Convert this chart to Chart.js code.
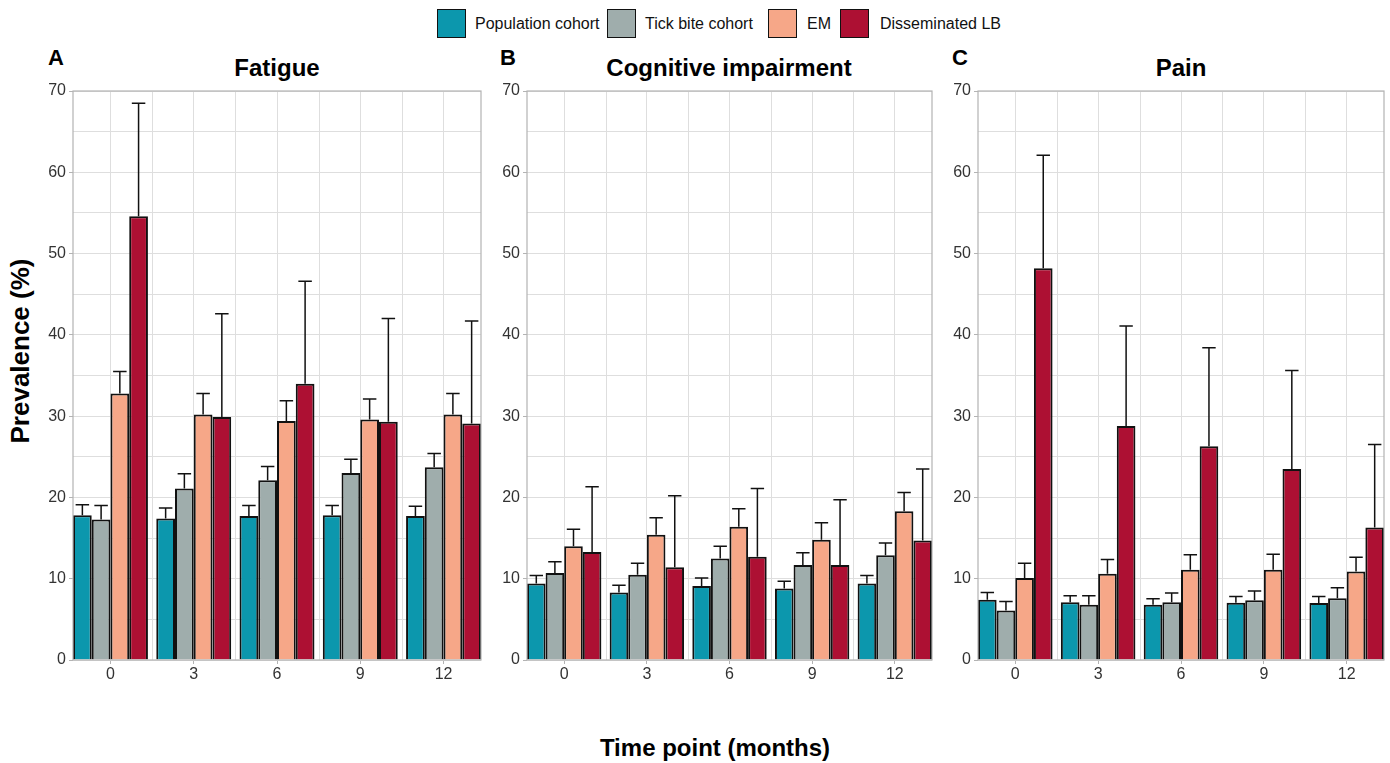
<!DOCTYPE html>
<html>
<head>
<meta charset="utf-8">
<script src="https://cdn.jsdelivr.net/npm/chart.js@4.4.1/dist/chart.umd.min.js"></script>
<style>
  html, body { margin: 0; padding: 0; background: #fff; }
  body { width: 1390px; height: 763px; position: relative; overflow: hidden;
         font-family: "Liberation Sans", Arial, Helvetica, sans-serif; color: #000; }
  .abs { position: absolute; white-space: nowrap; }
  .lbox { position: absolute; top: 9px; width: 29px; height: 29px; box-sizing: border-box; border: 1.5px solid #111; }
  .ltxt { position: absolute; top: 9px; height: 29px; line-height: 29px; font-size: 16px; color: #111; }
  .title { font-size: 24px; font-weight: bold; line-height: 24px; text-align: center; width: 400px; }
  .letter { font-size: 22px; font-weight: bold; line-height: 22px; }
  canvas { position: absolute; }
</style>
</head>
<body>
  <div class="lbox" style="left:437px;background:#0C97AD"></div>
  <div class="ltxt" style="left:475px">Population cohort</div>
  <div class="lbox" style="left:607px;background:#9FADAC"></div>
  <div class="ltxt" style="left:645px">Tick bite cohort</div>
  <div class="lbox" style="left:768px;background:#F6A788"></div>
  <div class="ltxt" style="left:807px">EM</div>
  <div class="lbox" style="left:840px;background:#AD1033"></div>
  <div class="ltxt" style="left:880px">Disseminated LB</div>

  <div class="abs letter" style="left:48px;top:47px">A</div>
  <div class="abs letter" style="left:500px;top:47px">B</div>
  <div class="abs letter" style="left:952px;top:47px">C</div>

  <div class="abs title" style="left:77px;top:56px">Fatigue</div>
  <div class="abs title" style="left:529px;top:56px">Cognitive impairment</div>
  <div class="abs title" style="left:981px;top:56px">Pain</div>

  <div class="abs" style="left:0;top:736px;width:1390px;text-align:center;font-size:24px;font-weight:bold;line-height:24px;padding-left:40px;box-sizing:border-box">Time point (months)</div>
  <div class="abs" style="left:-180px;top:338px;width:400px;text-align:center;font-size:26px;font-weight:bold;line-height:26px;transform:rotate(-90deg)">Prevalence (%)</div>

  <canvas id="cA" width="446" height="615" style="left:40px;top:75px"></canvas>
  <canvas id="cB" width="445" height="615" style="left:492px;top:75px"></canvas>
  <canvas id="cC" width="445" height="615" style="left:944px;top:75px"></canvas>

<script>
// ---------- data ----------
const months = [0, 3, 6, 9, 12];
const seriesNames = ['Population cohort', 'Tick bite cohort', 'EM', 'Disseminated LB'];
const yTickValues = [0, 5, 10, 15, 20, 25, 30, 35, 40, 45, 50, 55, 60, 65, 70];
const xMinorGrid = [1.5, 4.5, 7.5, 10.5];

// Fatigue
const fatiguePop        = [17.8, 17.4, 17.7, 17.8, 17.7];
const fatiguePopUpper   = [19.1, 18.7, 19.0, 19.0, 18.9];
const fatigueTick       = [17.3, 21.1, 22.1, 23.0, 23.7];
const fatigueTickUpper  = [19.0, 22.9, 23.8, 24.7, 25.4];
const fatigueEM         = [32.8, 30.2, 29.4, 29.6, 30.2];
const fatigueEMUpper    = [35.5, 32.8, 31.9, 32.1, 32.8];
const fatigueLB         = [54.6, 29.9, 34.0, 29.3, 29.1];
const fatigueLBUpper    = [68.5, 42.6, 46.6, 42.0, 41.7];

// Cognitive impairment
const cognPop           = [9.4, 8.3, 9.1, 8.8, 9.4];
const cognPopUpper      = [10.4, 9.2, 10.1, 9.7, 10.4];
const cognTick          = [10.7, 10.5, 12.5, 11.7, 12.9];
const cognTickUpper     = [12.1, 11.9, 14.0, 13.2, 14.4];
const cognEM            = [14.0, 15.4, 16.4, 14.8, 18.3];
const cognEMUpper       = [16.1, 17.5, 18.6, 16.9, 20.6];
const cognLB            = [13.3, 11.4, 12.7, 11.7, 14.7];
const cognLBUpper       = [21.3, 20.2, 21.1, 19.7, 23.5];

// Pain
const painPop           = [7.4, 7.1, 6.8, 7.05, 7.0];
const painPopUpper      = [8.3, 7.9, 7.55, 7.8, 7.8];
const painTick          = [6.1, 6.8, 7.1, 7.35, 7.6];
const painTickUpper     = [7.2, 7.9, 8.25, 8.5, 8.9];
const painEM            = [10.1, 10.6, 11.1, 11.1, 10.9];
const painEMUpper       = [11.9, 12.35, 12.95, 13.0, 12.65];
const painLB            = [48.2, 28.8, 26.3, 23.5, 16.3];
const painLBUpper       = [62.1, 41.1, 38.4, 35.6, 26.5];

// ---------- styles ----------
const colors = ['#0C97AD', '#9FADAC', '#F6A788', '#AD1033'];
const FONT = '"Liberation Sans", Arial, Helvetica, sans-serif';
const GRID = '#dedede';
const FRAME = '#b3b3b3';

const panelPlugin = {
  id: 'panelDecor',
  beforeDatasetsDraw(chart) {
    const { ctx, chartArea: a, scales: { x } } = chart;
    ctx.save();
    ctx.strokeStyle = GRID;
    ctx.lineWidth = 1;
    xMinorGrid.forEach(v => {
      const px = Math.round(x.getPixelForValue(v)) + 0.5;
      ctx.beginPath(); ctx.moveTo(px, a.top); ctx.lineTo(px, a.bottom); ctx.stroke();
    });
    ctx.restore();
  },
  afterDatasetsDraw(chart) {
    const { ctx, chartArea: a, scales: { y } } = chart;
    ctx.save();
    ctx.strokeStyle = '#111';
    ctx.lineWidth = 1.5;
    chart.data.datasets.forEach((ds, i) => {
      const meta = chart.getDatasetMeta(i);
      meta.data.forEach((bar, j) => {
        const top = y.getPixelForValue(ds.errUpper[j]);
        const half = bar.width * 0.36;
        ctx.beginPath();
        ctx.moveTo(bar.x, bar.y);
        ctx.lineTo(bar.x, top);
        ctx.moveTo(bar.x - half, top);
        ctx.lineTo(bar.x + half, top);
        ctx.stroke();
      });
    });
    ctx.strokeStyle = FRAME;
    ctx.lineWidth = 1.2;
    ctx.strokeRect(a.left, a.top, a.right - a.left, a.bottom - a.top);
    ctx.restore();
  }
};

function makePanel(id, values, uppers, yAxisWidth) {
  const datasets = values.map((vals, k) => ({
    label: seriesNames[k],
    data: months.map((m, i) => ({ x: m, y: vals[i] })),
    errUpper: uppers[k],
    backgroundColor: colors[k],
    borderColor: '#111',
    borderWidth: 2,
    categoryPercentage: 0.9,
    barPercentage: 1.0
  }));
  return new Chart(document.getElementById(id), {
    type: 'bar',
    data: { datasets },
    plugins: [panelPlugin],
    options: {
      responsive: false,
      animation: false,
      events: [],
      layout: { padding: { top: 16, right: 5, bottom: 0, left: 0 } },
      plugins: { legend: { display: false }, tooltip: { enabled: false }, title: { display: false } },
      scales: {
        x: {
          type: 'linear', min: -1.35, max: 13.35, offset: false,
          afterBuildTicks: s => { s.ticks = months.map(v => ({ value: v })); },
          afterFit: s => { s.height = 30; },
          ticks: { autoSkip: false, maxRotation: 0, padding: 1, color: '#333',
                   font: { size: 16, family: FONT }, callback: v => String(v) },
          grid: { offset: false, color: GRID, lineWidth: 1, tickLength: 4, tickColor: FRAME, drawTicks: true },
          border: { display: false }
        },
        y: {
          min: 0, max: 70,
          afterBuildTicks: s => { s.ticks = yTickValues.map(v => ({ value: v })); },
          afterFit: s => { s.width = yAxisWidth; },
          ticks: { autoSkip: false, padding: 3, color: '#333',
                   font: { size: 16, family: FONT },
                   callback: v => (v % 10 === 0 ? String(v) : '') },
          grid: { color: GRID, lineWidth: 1, tickLength: 4,
                  tickColor: c => (c.tick && c.tick.value % 10 === 0 ? FRAME : 'rgba(0,0,0,0)') },
          border: { display: false }
        }
      }
    }
  });
}

makePanel('cA', [fatiguePop, fatigueTick, fatigueEM, fatigueLB],
               [fatiguePopUpper, fatigueTickUpper, fatigueEMUpper, fatigueLBUpper], 33);
makePanel('cB', [cognPop, cognTick, cognEM, cognLB],
               [cognPopUpper, cognTickUpper, cognEMUpper, cognLBUpper], 35);
makePanel('cC', [painPop, painTick, painEM, painLB],
               [painPopUpper, painTickUpper, painEMUpper, painLBUpper], 34);
</script>
</body>
</html>
